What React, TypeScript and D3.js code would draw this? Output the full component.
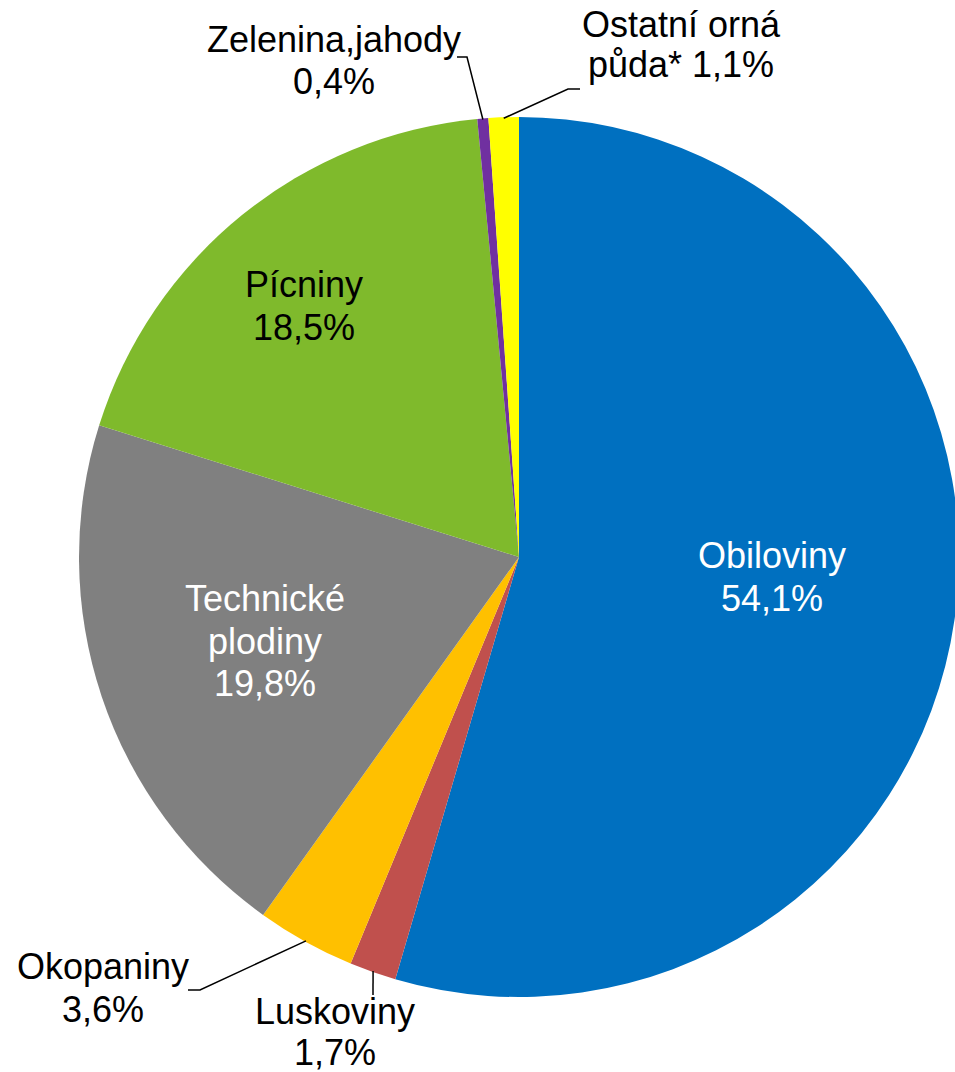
import React from "react";
import * as d3 from "d3";

const categories = ["Obiloviny", "Luskoviny", "Okopaniny", "Technické plodiny", "Pícniny", "Zelenina,jahody", "Ostatní orná půda*"];
const values = [54.1, 1.7, 3.6, 19.8, 18.5, 0.4, 1.1];
const valueLabels = ["54,1%", "1,7%", "3,6%", "19,8%", "18,5%", "0,4%", "1,1%"];
const colors = ["#0070C0", "#C0504D", "#FFC000", "#808080", "#7FBA2C", "#7030A0", "#FFFF00"];

const labelLines = [
  ["Obiloviny", "54,1%"],
  ["Luskoviny", "1,7%"],
  ["Okopaniny", "3,6%"],
  ["Technické", "plodiny", "19,8%"],
  ["Pícniny", "18,5%"],
  ["Zelenina,jahody", "0,4%"],
  ["Ostatní orná", "půda* 1,1%"],
];
const labelX = [772, 335, 103, 265, 304, 334, 681];
const labelY = [568, 1024, 979, 611, 297, 52, 37];
const labelSpacing = [43, 40.5, 42.5, 42.5, 43, 42, 40];
const labelColor = ["#fff", "#000", "#000", "#fff", "#000", "#000", "#000"];
const leaders: (number[][] | null)[] = [
  null,
  [[373, 995]],
  [[200, 990], [188, 990]],
  null,
  null,
  [[467, 57], [457, 57]],
  [[568, 89], [580, 89]],
];

export default function App() {
  const width = 955;
  const height = 1072;
  const cx = 519;
  const cy = 557;
  const r = 440;
  const pie = d3.pie<number>().sort(null).value((d) => d)(values);
  const arc = d3.arc<d3.PieArcDatum<number>>().innerRadius(0).outerRadius(r);
  return (
    <svg width={width} height={height} style={{ position: "absolute", left: 0, top: 0 }}
      fontFamily="'Liberation Sans', Arial, sans-serif">
      <g transform={`translate(${cx},${cy})`}>
        {pie.map((p, i) => (
          <path key={categories[i]} d={arc(p) || ""} fill={colors[i]} />
        ))}
      </g>
      {pie.map((p, i) => {
        const pts = leaders[i];
        if (!pts) return null;
        const mid = (p.startAngle + p.endAngle) / 2;
        const sx = cx + (r - 1) * Math.sin(mid);
        const sy = cy - (r - 1) * Math.cos(mid);
        const all = [[sx, sy], ...pts];
        return (
          <polyline key={"l" + i} points={all.map((q) => q.join(",")).join(" ")}
            fill="none" stroke="#000" strokeWidth={1.5} />
        );
      })}
      {labelLines.map((lines, i) => (
        <text key={"t" + i} x={labelX[i]} y={labelY[i]} textAnchor="middle" fontSize={36} fill={labelColor[i]}>
          {lines.map((ln, j) => (
            <tspan key={j} x={labelX[i]} y={labelY[i] + j * labelSpacing[i]}>{ln}</tspan>
          ))}
        </text>
      ))}
    </svg>
  );
}
